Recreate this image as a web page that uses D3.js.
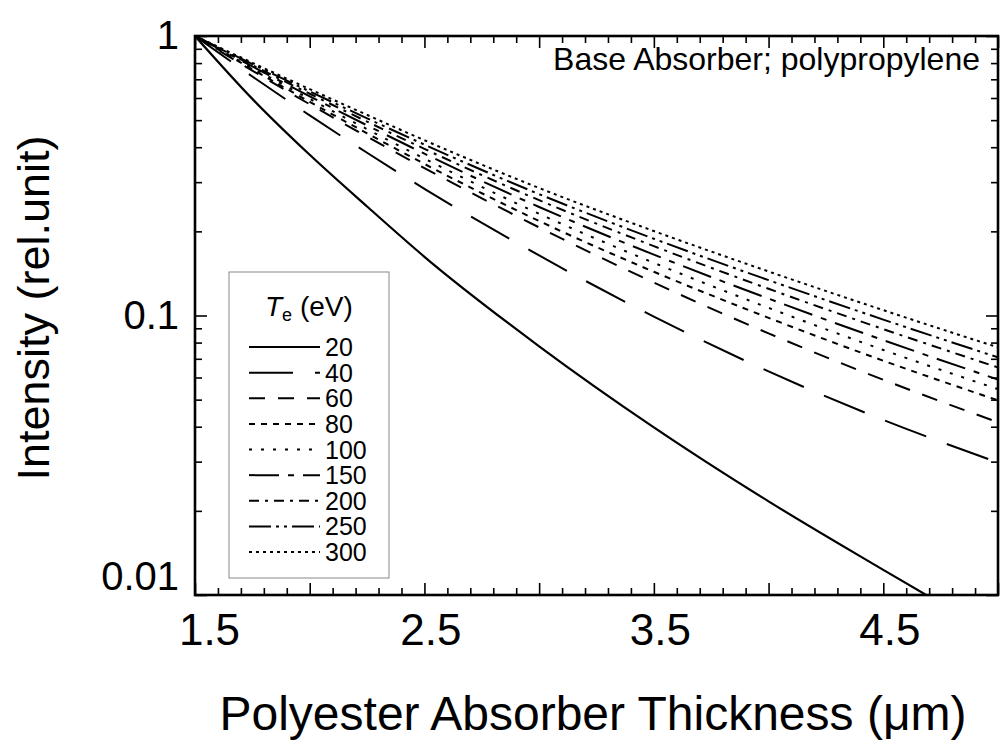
<!DOCTYPE html>
<html>
<head>
<meta charset="utf-8">
<script src="https://cdn.jsdelivr.net/npm/d3@7"></script>
<style>
  body { margin: 0; background: #fff; }
  svg { display: block; font-family: "Liberation Sans", Arial, sans-serif; }
</style>
</head>
<body>
<svg id="chart" width="1003" height="751"></svg>
<script>
// ---- data ----
const thickness = [1.5, 1.75, 2.0, 2.25, 2.5, 3.0, 3.5, 4.0, 4.5, 5.0];
const te20  = [1, 0.5957, 0.3758, 0.2455, 0.1622, 0.0776, 0.0398, 0.02163, 0.0123, 0.00708];
const te40  = [1, 0.7164, 0.520, 0.3822, 0.284, 0.164, 0.0991, 0.0631, 0.0423, 0.0298];
const te60  = [1, 0.7518, 0.570, 0.4365, 0.337, 0.2066, 0.1312, 0.0863, 0.0589, 0.0415];
const te80  = [1, 0.7597, 0.5816, 0.4486, 0.3487, 0.2178, 0.1434, 0.0981, 0.0689, 0.0497];
const te100 = [1, 0.7691, 0.5954, 0.4641, 0.3642, 0.2312, 0.1543, 0.1065, 0.0753, 0.0545];
const te150 = [1, 0.778, 0.6086, 0.479, 0.3793, 0.2445, 0.1651, 0.1149, 0.0816, 0.059];
const te200 = [1, 0.7862, 0.6215, 0.4939, 0.3946, 0.2586, 0.1771, 0.1246, 0.0894, 0.0652];
const te250 = [1, 0.7938, 0.6333, 0.5075, 0.4087, 0.2717, 0.1882, 0.1338, 0.0967, 0.0708];
const te300 = [1, 0.802, 0.6456, 0.522, 0.4237, 0.2858, 0.2005, 0.1437, 0.1045, 0.0769];
const seriesLabels = ["20", "40", "60", "80", "100", "150", "200", "250", "300"];
const xTickLabels = [1.5, 2.5, 3.5, 4.5];
const yTickLabels = [0.01, 0.1, 1];
const xTitle = "Polyester Absorber Thickness (\u03bcm)";
const yTitle = "Intensity (rel.unit)";
const note = "Base Absorber; polypropylene";

// ---- styles ----
const dashes = ["none", "44,22", "16,13", "6,6", "3,9", "30,9,6,9", "10,6,3,6", "22,5,3,5,3,5", "3,4"];

const seriesValues = [te20, te40, te60, te80, te100, te150, te200, te250, te300];
const series = seriesLabels.map((lab, i) => ({
  label: lab, dash: dashes[i],
  points: thickness.map((t, j) => ({x: t, y: seriesValues[i][j]}))
}));

const svg = d3.select("#chart");
const L = 195, R = 998, T = 36, B = 595;
const x = d3.scaleLinear().domain([1.5, 5]).range([L, R]);
const y = d3.scaleLog().domain([0.01, 1]).range([B, T]);

svg.append("defs").append("clipPath").attr("id", "plotclip")
  .append("rect").attr("x", L).attr("y", T).attr("width", R - L).attr("height", B - T);

// curves
const line = d3.line().x(d => x(d.x)).y(d => y(d.y)).curve(d3.curveMonotoneX);
svg.append("g").attr("clip-path", "url(#plotclip)")
  .selectAll("path").data(series).join("path")
  .attr("d", d => line(d.points))
  .attr("fill", "none").attr("stroke", "#000")
  .attr("stroke-width", (d, i) => i === 0 ? 2.2 : 2)
  .attr("stroke-dasharray", d => d.dash);

// ticks
const xMinor = d3.range(15, 51).map(d => d / 10).filter(v => Math.round(v * 10) % 5 !== 0);
const xMajor = d3.range(15, 51, 5).map(d => d / 10);
const yMinor = [], yMajor = [0.01, 0.1, 1];
[-2, -1].forEach(k => { for (let m = 2; m <= 9; m++) yMinor.push(m * Math.pow(10, k)); });

function tickAxis(axisFn, scale, vals, size, tr) {
  const g = svg.append("g").attr("transform", tr)
    .call(axisFn(scale).tickValues(vals).tickSize(size).tickFormat(""));
  g.select(".domain").remove();
  g.selectAll("line").attr("stroke", "#000").attr("stroke-width", 1.6);
  return g;
}
tickAxis(d3.axisBottom, x, xMinor, -7, `translate(0,${B})`);
tickAxis(d3.axisBottom, x, xMajor, -12, `translate(0,${B})`);
tickAxis(d3.axisTop, x, xMinor, -7, `translate(0,${T})`);
tickAxis(d3.axisTop, x, xMajor, -12, `translate(0,${T})`);
tickAxis(d3.axisLeft, y, yMinor, -7, `translate(${L},0)`);
tickAxis(d3.axisLeft, y, yMajor, -12, `translate(${L},0)`);
tickAxis(d3.axisRight, y, yMinor, -7, `translate(${R},0)`);
tickAxis(d3.axisRight, y, yMajor, -12, `translate(${R},0)`);

// tick labels
const gx = svg.append("g").attr("transform", `translate(0,${B})`)
  .call(d3.axisBottom(x).tickValues(xTickLabels).tickSize(0).tickPadding(19).tickFormat(d3.format(".1f")));
gx.select(".domain").remove();
gx.selectAll("text").attr("font-size", 44).attr("fill", "#000")
  .attr("font-family", "Liberation Sans, Arial, sans-serif")
  .attr("dx", d => d === 1.5 ? 14 : 6);

const gy = svg.append("g").attr("transform", `translate(${L},0)`)
  .call(d3.axisLeft(y).tickValues(yTickLabels).tickSize(0).tickPadding(16).tickFormat(d => String(d)));
gy.select(".domain").remove();
gy.selectAll("text").attr("font-size", 40).attr("fill", "#000")
  .attr("font-family", "Liberation Sans, Arial, sans-serif");
gy.selectAll("text").filter(d => d === 0.01).attr("dy", "-0.15em");

// frame
svg.append("rect").attr("x", L).attr("y", T).attr("width", R - L).attr("height", B - T)
  .attr("fill", "none").attr("stroke", "#000").attr("stroke-width", 2.6);

// titles
svg.append("text").attr("x", 593).attr("y", 730).attr("text-anchor", "middle")
  .attr("font-size", 48).text(xTitle);
svg.append("text").attr("transform", "translate(49,308) rotate(-90)").attr("text-anchor", "middle")
  .attr("font-size", 45).text(yTitle);
svg.append("text").attr("x", 980).attr("y", 70).attr("text-anchor", "end")
  .attr("font-size", 32).text(note);

// legend
const lg = svg.append("g");
lg.append("rect").attr("x", 229).attr("y", 272).attr("width", 160).attr("height", 306)
  .attr("fill", "#fff").attr("stroke", "#888").attr("stroke-width", 1);
const lt = lg.append("text").attr("x", 265).attr("y", 316).attr("font-size", 28);
lt.append("tspan").attr("font-style", "italic").text("T");
lt.append("tspan").attr("font-size", 18).attr("dy", 5).text("e");
lt.append("tspan").attr("dy", -5).text(" (eV)");
const ly = d3.scalePoint().domain(seriesLabels).range([347, 552]);
const items = lg.selectAll("g.item").data(series).join("g").attr("class", "item")
  .attr("transform", d => `translate(0,${ly(d.label)})`);
items.append("line").attr("x1", 249).attr("x2", 320).attr("y1", 0).attr("y2", 0)
  .attr("stroke", "#000").attr("stroke-width", (d, i) => i === 0 ? 2.2 : 2)
  .attr("stroke-dasharray", d => d.dash);
items.append("text").attr("x", 325).attr("y", 0).attr("dy", "0.36em")
  .attr("font-size", 25).text(d => d.label);
</script>
</body>
</html>
